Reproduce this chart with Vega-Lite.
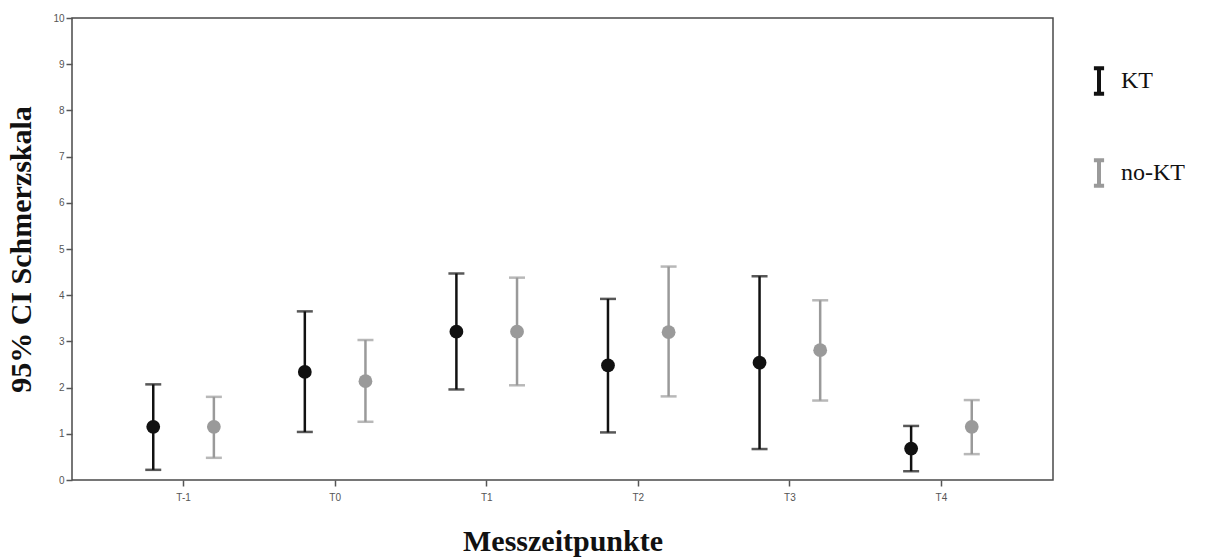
{
  "$schema": "https://vega.github.io/schema/vega-lite/v6.json",
  "width": 981,
  "height": 462,
  "autosize": {"type": "none"},
  "padding": {"left": 72, "top": 18, "right": 157, "bottom": 80},
  "background": "white",
  "config": {
    "view": {"stroke": "#4a4a4a", "strokeWidth": 1.5},
    "axis": {"grid": false, "domain": false, "tickColor": "#555", "tickWidth": 1.5, "tickSize": 6, "labelColor": "#555", "labelFont": "Liberation Sans", "labelFontSize": 10, "titleFont": "Liberation Serif", "titleFontWeight": "bold", "titleColor": "#111", "titleFontSize": 30}
  },
  "data": {
    "values": [
      {"t": "T-1", "g": "KT", "mean": 1.15, "lo": 0.22, "hi": 2.07},
      {"t": "T-1", "g": "no-KT", "mean": 1.15, "lo": 0.48, "hi": 1.8},
      {"t": "T0", "g": "KT", "mean": 2.34, "lo": 1.04, "hi": 3.65},
      {"t": "T0", "g": "no-KT", "mean": 2.14, "lo": 1.26, "hi": 3.03},
      {"t": "T1", "g": "KT", "mean": 3.21, "lo": 1.96, "hi": 4.47},
      {"t": "T1", "g": "no-KT", "mean": 3.21, "lo": 2.05, "hi": 4.38},
      {"t": "T2", "g": "KT", "mean": 2.48, "lo": 1.03, "hi": 3.92},
      {"t": "T2", "g": "no-KT", "mean": 3.2, "lo": 1.81, "hi": 4.62},
      {"t": "T3", "g": "KT", "mean": 2.54, "lo": 0.67, "hi": 4.41},
      {"t": "T3", "g": "no-KT", "mean": 2.81, "lo": 1.72, "hi": 3.89},
      {"t": "T4", "g": "KT", "mean": 0.68, "lo": 0.19, "hi": 1.17},
      {"t": "T4", "g": "no-KT", "mean": 1.15, "lo": 0.56, "hi": 1.73}
    ]
  },
  "encoding": {
    "x": {
      "field": "t", "type": "nominal",
      "scale": {"type": "band", "domain": ["T-1", "T0", "T1", "T2", "T3", "T4"], "paddingInner": 0, "paddingOuter": 0.236},
      "axis": {"title": "Messzeitpunkte", "labelAngle": 0, "labelPadding": 6, "titlePadding": 24}
    },
    "xOffset": {
      "field": "g", "type": "nominal",
      "scale": {"domain": ["KT", "no-KT"], "paddingInner": 0, "paddingOuter": 0.25}
    },
    "color": {
      "field": "g", "type": "nominal",
      "scale": {"domain": ["KT", "no-KT"], "range": ["#111111", "#9a9a9a"]},
      "legend": {
        "title": null,
        "orient": "none",
        "legendX": 1012,
        "legendY": 48,
        "symbolType": "M-0.4,-1H0.4M0,-1V1M-0.4,1H0.4",
        "symbolSize": 650,
        "symbolStrokeWidth": 4,
        "rowPadding": 50,
        "labelFont": "Liberation Serif",
        "labelFontSize": 24,
        "labelColor": "#111",
        "labelOffset": 7,
        "encode": {
          "symbols": {
            "update": {
              "stroke": {"scale": "color", "field": "value"},
              "fill": {"value": "transparent"},
              "strokeWidth": {"value": 4}
            }
          }
        }
      }
    }
  },
  "layer": [
    {
      "mark": {"type": "rule", "strokeWidth": 2.5},
      "encoding": {
        "y": {"field": "lo", "type": "quantitative", "scale": {"domain": [0, 10], "nice": false},
          "axis": {"title": "95% CI Schmerzskala", "values": [0,1,2,3,4,5,6,7,8,9,10], "labelPadding": 2, "titlePadding": 16}},
        "y2": {"field": "hi"}
      }
    },
    {
      "mark": {"type": "tick", "size": 16, "thickness": 2.5, "orient": "horizontal"},
      "encoding": {"y": {"field": "lo", "type": "quantitative"}}
    },
    {
      "mark": {"type": "tick", "size": 16, "thickness": 2.5, "orient": "horizontal"},
      "encoding": {"y": {"field": "hi", "type": "quantitative"}}
    },
    {
      "mark": {"type": "point", "filled": true, "size": 190, "opacity": 1, "shape": "circle"},
      "encoding": {"y": {"field": "mean", "type": "quantitative"}}
    }
  ]
}
